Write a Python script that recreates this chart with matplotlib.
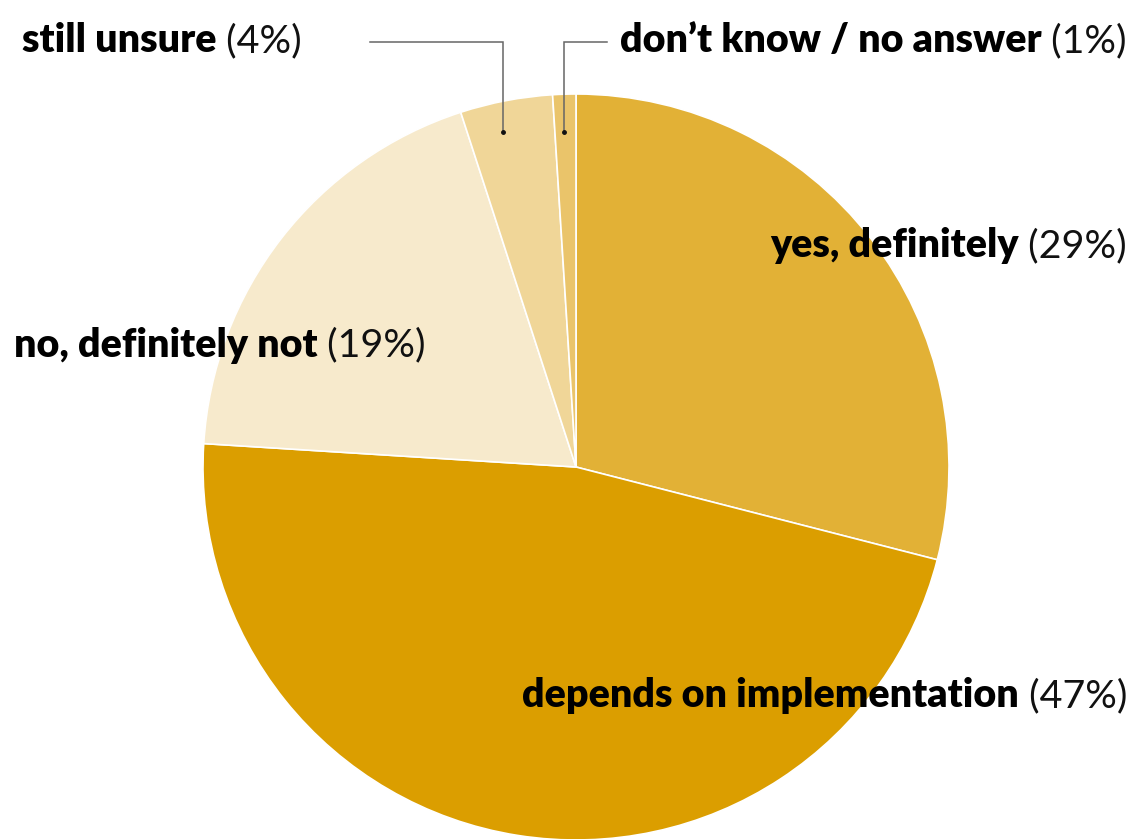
import matplotlib
matplotlib.use("Agg")
import matplotlib.pyplot as plt

categories = ["yes, definitely", "depends on implementation", "no, definitely not",
              "still unsure", "don\u2019t know / no answer"]
shares = [29, 47, 19, 4, 1]
colors = ["#E2B136", "#DB9E00", "#F7EACC", "#F0D698", "#EAC46A"]

W, H = 1138, 839
fig = plt.figure(figsize=(W / 100, H / 100), dpi=100)
ax = fig.add_axes([0, 0, 1, 1])
ax.set_xlim(0, W)
ax.set_ylim(0, H)
ax.set_aspect("equal")
ax.axis("off")

cx, cy, r = 576, H - 467, 373
ax.pie(shares, colors=colors, startangle=90, counterclock=False,
       center=(cx, cy), radius=r, frame=True,
       wedgeprops=dict(edgecolor="white", linewidth=1.2))
ax.set_xlim(0, W)
ax.set_ylim(0, H)
ax.axis("off")

FS = 28.4
FAMILY = ["Lato", "DejaVu Sans"]
renderer = fig.canvas.get_renderer()


def label(x, y, bold, regular, ha="right"):
    """Draw a bold name followed by a regular percentage, anchored at x."""
    y = H - y
    if ha == "right":
        t2 = ax.text(x, y, " " + regular, ha="right", va="center",
                     fontsize=FS, family=FAMILY, color="#111111")
        bb = t2.get_window_extent(renderer)
        ax.text(bb.x0, y, bold, ha="right", va="center", fontsize=FS,
                family=FAMILY, fontweight="heavy", color="#000000")
    else:
        t1 = ax.text(x, y, bold, ha="left", va="center", fontsize=FS,
                     family=FAMILY, fontweight="heavy", color="#000000")
        bb = t1.get_window_extent(renderer)
        ax.text(bb.x1, y, " " + regular, ha="left", va="center",
                fontsize=FS, family=FAMILY, color="#111111")


pct = [f"({v}%)" for v in shares]
label(1127, 246, categories[0], pct[0])
label(1127, 696, categories[1], pct[1])
label(426, 345, categories[2], pct[2])
label(22, 41, categories[3], pct[3], ha="left")
label(1127, 41, categories[4], pct[4])

# leader lines for the two thin slices
for xs, ys in [((370, 503, 503), (42, 42, 132)),
               ((607, 564, 564), (42, 42, 132))]:
    ax.plot(xs, [H - v for v in ys], color="#666666", lw=1.1,
            solid_joinstyle="miter")
    ax.plot(xs[-1], H - ys[-1], "o", color="#111111", ms=2.5)

fig.savefig("out.png", dpi=100)
